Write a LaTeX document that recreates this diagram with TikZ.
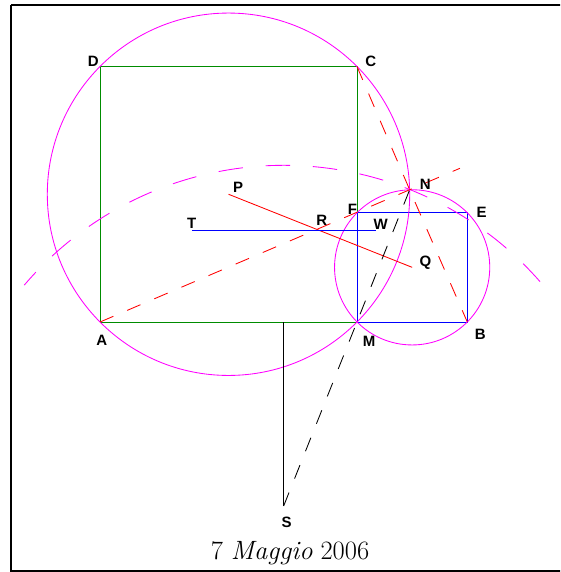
\documentclass[tikz,border=0pt]{standalone}
\usepackage{fontspec}
\newfontfamily\lblfont{Liberation Sans}
\usetikzlibrary{calc}
\definecolor{sqgreen}{RGB}{0,140,0}
\definecolor{sqblue}{RGB}{0,0,255}
\definecolor{cmag}{RGB}{255,0,255}
\definecolor{cred}{RGB}{255,0,0}
\begin{document}
\begin{tikzpicture}[x=1pt,y=-1pt,
  lbl/.style={font=\lblfont\bfseries\fontsize{15}{17}\selectfont, inner sep=0pt, text height=10.7pt, text depth=0pt},
  thin line/.style={line width=0.85pt},
  greenline/.style={thin line, draw=sqgreen},
  blueline/.style={thin line, draw=sqblue},
  magline/.style={thin line, draw=cmag},
  redline/.style={thin line, draw=cred},
  blackline/.style={thin line, draw=black},
  shortdash/.style={dash pattern=on 14.5pt off 15pt},
  longdash/.style={dash pattern=on 24.5pt off 22.8pt},
  framebox/.style={line width=2.2pt, draw=black}
]
\useasboundingbox (0,0) rectangle (560,572);
\clip (0,0) rectangle (560,572);

% points
\coordinate (A) at (100,322);
\coordinate (M) at (357,322);
\coordinate (C) at (357,66.5);
\coordinate (D) at (100,66.5);
\coordinate (B) at (467.3,322);
\coordinate (E) at (467.3,212.7);
\coordinate (F) at (357,212.7);
\coordinate (P) at (228.5,194.25);
\coordinate (Q) at (412.15,267.35);
\coordinate (N) at (409.64,189.76);
\coordinate (H) at (283.65,322);
\coordinate (S) at (283.65,506);
\coordinate (T) at (191.8,230.8);
\coordinate (W) at (375.5,230.8);
\coordinate (R) at ($(P)!0.5!(Q)$);
\coordinate (X) at ($(A)!1.1626!(N)$);

% frame (its right side lies beyond the visible area)
\draw[framebox] (11.2,5.2) -- (575,5.2) (11.2,5.2) -- (11.2,570.9) -- (575,570.9);

% squares
\draw[greenline] (A) -- (M) -- (C) -- (D) -- cycle;
\draw[blueline] (M) -- (B) -- (E) -- (F) -- cycle;

% circles
\draw[magline] (P) circle[radius=181.2pt];
\draw[magline] (Q) circle[radius=77.6pt];
\draw[magline, longdash] (S) ++(41.2:340.7pt) arc[start angle=41.2, end angle=139.6, radius=340.7pt];

% lines
\draw[redline] (P) -- (Q);
\draw[blueline] (T) -- (W);
\draw[redline, shortdash] (A) -- (X);
\draw[redline, shortdash] (C) -- (N) -- (B);
\draw[blackline] (H) -- (S);
\draw[blackline, shortdash] (S) -- (N);

% labels
\node[lbl] (lD) at (93.3,60.8) {D};
\node[lbl] (lC) at (370.7,60.8) {C};
\node[lbl] (lN) at (425.3,183.7) {N};
\node[lbl] (lP) at (238,187.5) {P};
\node[lbl] (lF) at (352.5,208.8) {F};
\node[lbl] (lE) at (481.7,211.8) {E};
\node[lbl] (lT) at (191.7,223.3) {T};
\node[lbl] (lR) at (321.7,220.5) {R};
\node[lbl] (lW) at (380.8,224.2) {W};
\node[lbl] (lQ) at (425.5,261.5) {Q};
\node[lbl] (lA) at (101.7,340) {A};
\node[lbl] (lM) at (369,341) {M};
\node[lbl] (lB) at (480.3,334.3) {B};
\node[lbl] (lS) at (286.5,522) {S};

\node[font=\fontsize{26.5}{31}\selectfont, anchor=base, inner sep=0pt] (date) at (290,559.3) {7 \textit{Maggio} 2006};
\end{tikzpicture}
\end{document}
